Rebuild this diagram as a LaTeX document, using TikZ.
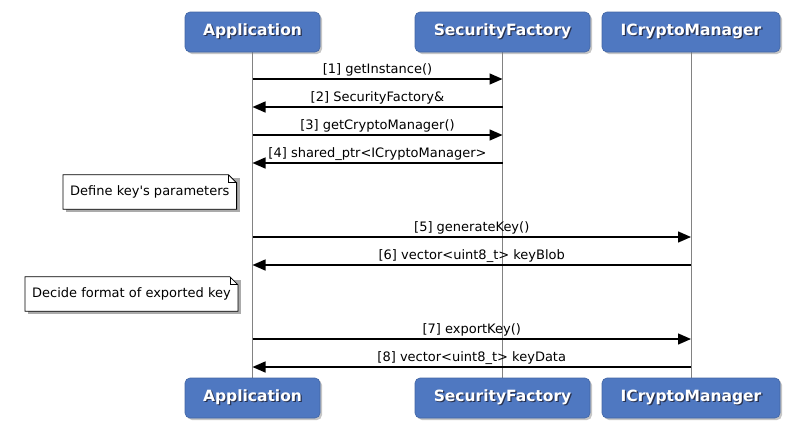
\documentclass[tikz,border=0pt]{standalone}
\usepackage{fontspec}
\setmainfont{DejaVu Sans}
\usetikzlibrary{arrows.meta,shadows}
\pgfdeclarelayer{background}
\pgfsetlayers{background,main}

\definecolor{partblue}{RGB}{79,120,193}
\definecolor{lifegray}{RGB}{130,130,130}
\definecolor{textshade}{RGB}{40,50,80}

% participant title with a soft shadow under it
\newcommand{\shadedtitle}[1]{\makebox[0pt][l]{\hspace{1.3pt}\raisebox{-1.3pt}{\textcolor{textshade}{#1}}}#1}

\tikzset{
  part/.style={fill=partblue, draw=partblue!85!black, line width=0.6pt, rounded corners=5pt,
    minimum height=40pt, text=white, font=\fontsize{15.5}{18}\selectfont\bfseries,
    drop shadow={shadow xshift=2pt, shadow yshift=-2pt, opacity=0.45}},
  life/.style={lifegray, line width=1pt},
  msg/.style={line width=1.4pt, -{Triangle[length=13pt,width=11pt]}},
  msglabel/.style={above, inner sep=2pt, font=\fontsize{13}{15}\selectfont},
  note/.style={anchor=west, minimum height=34pt, inner xsep=7pt, font=\fontsize{13}{15}\selectfont}
}

\begin{document}
\begin{tikzpicture}[x=1pt, y=-1pt]
\useasboundingbox (0,0) rectangle (794,426);

%participants and lifelines
	\foreach \name/\x/\w/\txt in {app/252.5/135/Application, sec/502.5/175/SecurityFactory, icm/691/178/ICryptoManager}{
		\node[part, minimum width=\w pt] (\name Top) at (\x,32) {\shadedtitle{\txt}};
		\node[part, minimum width=\w pt] (\name Bot) at (\x,398) {\shadedtitle{\txt}};
		\begin{pgfonlayer}{background}
			\draw[life] (\name Top) -- (\name Bot);
		\end{pgfonlayer}
	}

%notes
	\node[note] (keyNote) at (63,192) {Define key\textquotesingle s parameters};
	\node[note] (fmtNote) at (25,294) {Decide format of exported key};
	\foreach \n in {keyNote, fmtNote}{
		\begin{pgfonlayer}{background}
			\fill[black!55, opacity=0.6] ([shift={(3pt,-3pt)}]\n.south west) -- ([shift={(3pt,-3pt)}]\n.north west)
				-- ([shift={(3pt,-3pt)}]\n.north east) -- ([shift={(3pt,-3pt)}]\n.south east) -- cycle;
			\draw[fill=white, line width=0.8pt] (\n.south west) -- (\n.north west) -- ([xshift=-8pt]\n.north east)
				-- ([yshift=-8pt]\n.north east) -- (\n.south east) -- cycle;
			\draw[line width=0.8pt] ([xshift=-8pt]\n.north east) |- ([yshift=-8pt]\n.north east);
		\end{pgfonlayer}
	}

%messages
	\foreach \y/\from/\to/\txt in {
		79/app/sec/{[1] getInstance()},
		107/sec/app/{[2] SecurityFactory\&},
		135/app/sec/{[3] getCryptoManager()},
		163/sec/app/{[4] shared\_ptr<ICryptoManager>},
		237/app/icm/{[5] generateKey()},
		265/icm/app/{[6] vector<uint8\_t> keyBlob},
		339/app/icm/{[7] exportKey()},
		367/icm/app/{[8] vector<uint8\_t> keyData}}{
		\draw[msg] (\from Top |- 0,\y) -- (\to Top |- 0,\y) node[msglabel, midway] {\txt};
	}

\end{tikzpicture}
\end{document}
